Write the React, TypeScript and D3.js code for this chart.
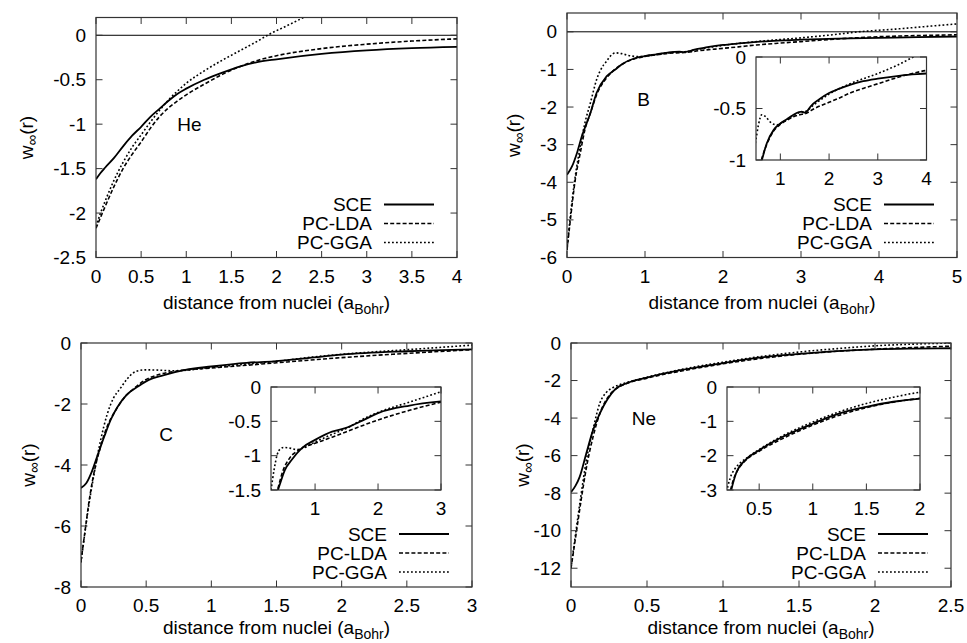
import React from 'react';
import * as d3 from 'd3';

type P = [number, number];

// ---------- He ----------
const heSCE: P[] = [[0,-1.62],[0.05,-1.55],[0.1,-1.49],[0.2,-1.38],[0.3,-1.25],[0.4,-1.13],[0.5,-1.03],[0.6,-0.92],[0.7,-0.83],[0.8,-0.74],[0.9,-0.66],[1,-0.6],[1.2,-0.5],[1.4,-0.42],[1.6,-0.35],[1.8,-0.3],[2,-0.27],[2.5,-0.21],[3,-0.17],[3.5,-0.145],[4,-0.13]];
const heLDA: P[] = [[0,-2.17],[0.05,-2.05],[0.1,-1.93],[0.2,-1.7],[0.3,-1.5],[0.4,-1.34],[0.5,-1.2],[0.6,-1.05],[0.7,-0.92],[0.8,-0.82],[0.9,-0.74],[1,-0.67],[1.2,-0.55],[1.4,-0.44],[1.6,-0.35],[1.8,-0.28],[2,-0.23],[2.5,-0.15],[3,-0.1],[3.5,-0.065],[4,-0.04]];
const heGGA: P[] = [[0,-2.15],[0.05,-2.0],[0.1,-1.87],[0.2,-1.63],[0.3,-1.43],[0.4,-1.26],[0.5,-1.12],[0.6,-0.98],[0.7,-0.85],[0.8,-0.73],[0.9,-0.63],[1,-0.54],[1.2,-0.4],[1.4,-0.28],[1.6,-0.17],[1.8,-0.06],[1.9,0.0],[2.1,0.1],[2.3,0.2],[2.4,0.25]];

// ---------- B ----------
const bSCE: P[] = [[0,-3.8],[0.064,-3.58],[0.128,-3.22],[0.19,-2.78],[0.3,-2.16],[0.38,-1.62],[0.51,-1.18],[0.62,-1.0],[0.72,-0.84],[0.86,-0.71],[1.0,-0.645],[1.15,-0.6],[1.27,-0.56],[1.38,-0.535],[1.44,-0.53],[1.5,-0.54],[1.56,-0.52],[1.62,-0.48],[1.8,-0.41],[2.0,-0.35],[2.2,-0.31],[2.43,-0.27],[2.7,-0.235],[3.0,-0.21],[3.47,-0.18],[4.0,-0.16],[4.5,-0.14],[5.0,-0.125]];
const bLDA: P[] = [[0,-5.8],[0.043,-5.0],[0.106,-3.93],[0.17,-3.22],[0.23,-2.6],[0.3,-2.16],[0.38,-1.67],[0.51,-1.22],[0.6,-1.02],[0.72,-0.85],[0.86,-0.72],[1.0,-0.655],[1.15,-0.61],[1.27,-0.58],[1.4,-0.56],[1.51,-0.55],[1.7,-0.5],[2.0,-0.44],[2.2,-0.4],[2.43,-0.35],[2.7,-0.305],[3.0,-0.26],[3.47,-0.19],[4.0,-0.13],[4.5,-0.1],[5.0,-0.08]];
const bGGA: P[] = [[0,-5.8],[0.043,-4.9],[0.106,-3.84],[0.17,-3.05],[0.23,-2.42],[0.3,-1.89],[0.38,-1.27],[0.47,-0.88],[0.5,-0.8],[0.55,-0.66],[0.62,-0.56],[0.7,-0.58],[0.79,-0.63],[0.93,-0.66],[1.0,-0.645],[1.15,-0.6],[1.27,-0.565],[1.4,-0.54],[1.51,-0.53],[1.7,-0.46],[2.0,-0.36],[2.43,-0.26],[3.0,-0.16],[3.4,-0.08],[3.74,0.0],[4.2,0.07],[4.6,0.14],[5.0,0.21]];

// ---------- C ----------
const cSCE: P[] = [[0,-4.75],[0.04,-4.6],[0.08,-4.25],[0.13,-3.65],[0.18,-3.05],[0.23,-2.5],[0.28,-2.1],[0.35,-1.7],[0.44,-1.42],[0.52,-1.21],[0.63,-1.06],[0.79,-0.89],[1.0,-0.77],[1.27,-0.65],[1.48,-0.6],[1.75,-0.49],[2.0,-0.38],[2.5,-0.27],[3.0,-0.21]];
const cLDA: P[] = [[0,-7.15],[0.03,-6.2],[0.065,-5.1],[0.1,-4.25],[0.15,-3.4],[0.2,-2.75],[0.26,-2.25],[0.33,-1.8],[0.41,-1.48],[0.49,-1.22],[0.6,-1.03],[0.74,-0.92],[0.79,-0.89],[1.0,-0.82],[1.27,-0.73],[1.5,-0.65],[2.0,-0.48],[2.5,-0.34],[3.0,-0.22]];
const cGGA: P[] = [[0,-7.2],[0.05,-5.6],[0.1,-4.3],[0.15,-3.2],[0.2,-2.35],[0.25,-1.8],[0.3,-1.5],[0.35,-1.2],[0.4,-0.98],[0.45,-0.9],[0.5,-0.88],[0.6,-0.89],[0.7,-0.91],[0.78,-0.9],[1.0,-0.8],[1.27,-0.69],[1.5,-0.6],[1.8,-0.45],[2.0,-0.37],[2.5,-0.22],[3.0,-0.07]];

// ---------- Ne ----------
const neSCE: P[] = [[0,-7.95],[0.03,-7.6],[0.057,-7.13],[0.1,-5.9],[0.145,-4.64],[0.19,-3.75],[0.24,-3.0],[0.29,-2.47],[0.37,-2.13],[0.5,-1.84],[0.72,-1.45],[1.0,-1.07],[1.25,-0.77],[1.5,-0.58],[1.75,-0.43],[2.0,-0.34],[2.25,-0.3],[2.5,-0.28]];
const neLDA: P[] = [[0,-12],[0.033,-10.2],[0.066,-8.4],[0.1,-6.7],[0.145,-5.0],[0.19,-3.75],[0.22,-3.2],[0.26,-2.7],[0.3,-2.42],[0.37,-2.15],[0.5,-1.87],[0.72,-1.5],[1.0,-1.11],[1.25,-0.82],[1.5,-0.6],[1.75,-0.44],[2.0,-0.33],[2.25,-0.24],[2.5,-0.17]];
const neGGA: P[] = [[0,-12],[0.033,-10.0],[0.066,-8.1],[0.1,-6.3],[0.145,-4.6],[0.19,-3.2],[0.23,-2.65],[0.27,-2.4],[0.32,-2.22],[0.37,-2.1],[0.5,-1.82],[0.72,-1.42],[1.0,-1.02],[1.25,-0.72],[1.5,-0.48],[1.75,-0.3],[2.0,-0.15],[2.25,-0.06],[2.5,0.0]];

// ---------- ticks ----------
const heXTicks = [0,0.5,1,1.5,2,2.5,3,3.5,4];
const heYTicks = [-2.5,-2,-1.5,-1,-0.5,0];
const bXTicks = [0,1,2,3,4,5];
const bYTicks = [-6,-5,-4,-3,-2,-1,0];
const cXTicks = [0,0.5,1,1.5,2,2.5,3];
const cYTicks = [-8,-6,-4,-2,0];
const neXTicks = [0,0.5,1,1.5,2,2.5];
const neYTicks = [-12,-10,-8,-6,-4,-2,0];
const bInXTicks = [1,2,3,4];
const bInYTicks = [-1,-0.5,0];
const cInXTicks = [1,2,3];
const cInYTicks = [-1.5,-1,-0.5,0];
const neInXTicks = [0.5,1,1.5,2];
const neInYTicks = [-3,-2,-1,0];

const legendNames = ['SCE','PC-LDA','PC-GGA'];
const DASHES = [undefined, '4,2.2', '1.8,2.2'];
const WIDTHS = [1.8, 1.6, 1.6];
const FONT = '"Liberation Sans", Arial, Helvetica, sans-serif';
const FS = 19;

function fmt(v: number) { return String(Math.round(v * 100) / 100); }

type PlotProps = {
  id: string; left: number; right: number; top: number; bottom: number;
  xDomain: [number, number]; yDomain: [number, number];
  xTicks: number[]; yTicks: number[]; series: P[][];
  zero?: boolean; fill?: boolean;
};

function Plot(p: PlotProps) {
  const xs = d3.scaleLinear().domain(p.xDomain).range([p.left, p.right]);
  const ys = d3.scaleLinear().domain(p.yDomain).range([p.bottom, p.top]);
  const line = d3.line<P>().x(d => xs(d[0])).y(d => ys(d[1])).curve(d3.curveMonotoneX);
  const tl = 6.5;
  return (
    <g>
      <defs>
        <clipPath id={p.id}><rect x={p.left} y={p.top} width={p.right - p.left} height={p.bottom - p.top} /></clipPath>
      </defs>
      {p.fill && <rect x={p.left} y={p.top} width={p.right - p.left} height={p.bottom - p.top} fill="#fff" />}
      {p.zero && <line x1={p.left} x2={p.right} y1={ys(0)} y2={ys(0)} stroke="#000" strokeWidth={1} />}
      <g clipPath={`url(#${p.id})`}>
        {p.series.map((s, i) => (
          <path key={i} d={line(s) || ''} fill="none" stroke="#000"
            strokeWidth={WIDTHS[i]} strokeDasharray={DASHES[i]} />
        ))}
      </g>
      {p.xTicks.map((t, i) => (
        <g key={'x' + i}>
          <line x1={xs(t)} x2={xs(t)} y1={p.bottom} y2={p.bottom - tl} stroke="#333" />
          <line x1={xs(t)} x2={xs(t)} y1={p.top} y2={p.top + tl} stroke="#333" />
          <text x={xs(t)} y={p.bottom + 25} textAnchor="middle" fontSize={FS} fontFamily={FONT}>{fmt(t)}</text>
        </g>
      ))}
      {p.yTicks.map((t, i) => (
        <g key={'y' + i}>
          <line x1={p.left} x2={p.left + tl} y1={ys(t)} y2={ys(t)} stroke="#333" />
          <line x1={p.right} x2={p.right - tl} y1={ys(t)} y2={ys(t)} stroke="#333" />
          <text x={p.left - 10} y={ys(t) + 6.5} textAnchor="end" fontSize={FS} fontFamily={FONT}>{fmt(t)}</text>
        </g>
      ))}
      <rect x={p.left} y={p.top} width={p.right - p.left} height={p.bottom - p.top} fill="none" stroke="#333" strokeWidth={1.2} />
    </g>
  );
}

type PanelProps = PlotProps & {
  label: string; labelAt: P; yTitleX: number; titleDy: number;
};

function Panel(p: PanelProps) {
  const xs = d3.scaleLinear().domain(p.xDomain).range([p.left, p.right]);
  const ys = d3.scaleLinear().domain(p.yDomain).range([p.bottom, p.top]);
  const cx = (p.left + p.right) / 2;
  const cy = (p.top + p.bottom) / 2;
  return (
    <g>
      <Plot {...p} />
      <text x={xs(p.labelAt[0])} y={ys(p.labelAt[1]) + 6.5} fontSize={FS} fontFamily={FONT}>{p.label}</text>
      {legendNames.map((n, i) => {
        const y = p.bottom - 53 + i * 19;
        return (
          <g key={n}>
            <text x={p.right - 85} y={y + 6.5} textAnchor="end" fontSize={FS} fontFamily={FONT}>{n}</text>
            <line x1={p.right - 73} x2={p.right - 23} y1={y} y2={y} stroke="#000"
              strokeWidth={WIDTHS[i]} strokeDasharray={DASHES[i]} />
          </g>
        );
      })}
      <text x={cx} y={p.bottom + p.titleDy} textAnchor="middle" fontSize={FS} fontFamily={FONT}>
        distance from nuclei (a<tspan fontSize={14} dy={5}>Bohr</tspan><tspan dy={-5}>)</tspan>
      </text>
      <text transform={`translate(${p.yTitleX},${cy}) rotate(-90)`} textAnchor="middle" dy={7}
        fontSize={FS} fontFamily={FONT}>
        w<tspan fontSize={15} dy={4}>∞</tspan><tspan dy={-4}>(r)</tspan>
      </text>
    </g>
  );
}

export default function App() {
  return (
    <svg width={967} height={643} style={{ position: 'absolute', left: 0, top: 0, background: '#fff' }}>
      <rect width={967} height={643} fill="#fff" />
      <Panel id="he" left={96} right={457} top={17.5} bottom={257.5} xDomain={[0, 4]} yDomain={[-2.5, 0.2]}
        xTicks={heXTicks} yTicks={heYTicks} series={[heSCE, heLDA, heGGA]} zero
        label="He" labelAt={[0.9, -1.0]} yTitleX={26} titleDy={51} />
      <Panel id="b" left={567} right={957} top={13} bottom={257.5} xDomain={[0, 5]} yDomain={[-6, 0.5]}
        xTicks={bXTicks} yTicks={bYTicks} series={[bSCE, bLDA, bGGA]} zero
        label="B" labelAt={[0.9, -1.8]} yTitleX={513} titleDy={51} />
      <Plot id="bin" left={756} right={926.5} top={57} bottom={160} xDomain={[0.5, 4]} yDomain={[-1, 0]}
        xTicks={bInXTicks} yTicks={bInYTicks} series={[bSCE, bLDA, bGGA]} fill />
      <Panel id="c" left={81} right={472} top={343} bottom={587} xDomain={[0, 3]} yDomain={[-8, 0]}
        xTicks={cXTicks} yTicks={cYTicks} series={[cSCE, cLDA, cGGA]}
        label="C" labelAt={[0.6, -3.0]} yTitleX={28} titleDy={47} />
      <Plot id="cin" left={271} right={441} top={387} bottom={490} xDomain={[0.3, 3]} yDomain={[-1.5, 0]}
        xTicks={cInXTicks} yTicks={cInYTicks} series={[cSCE, cLDA, cGGA]} fill />
      <Panel id="ne" left={571} right={951} top={343} bottom={587} xDomain={[0, 2.5]} yDomain={[-13, 0]}
        xTicks={neXTicks} yTicks={neYTicks} series={[neSCE, neLDA, neGGA]}
        label="Ne" labelAt={[0.4, -4.0]} yTitleX={522} titleDy={47} />
      <Plot id="nein" left={727} right={920} top={387} bottom={490} xDomain={[0.2, 2]} yDomain={[-3, 0]}
        xTicks={neInXTicks} yTicks={neInYTicks} series={[neSCE, neLDA, neGGA]} fill />
    </svg>
  );
}
